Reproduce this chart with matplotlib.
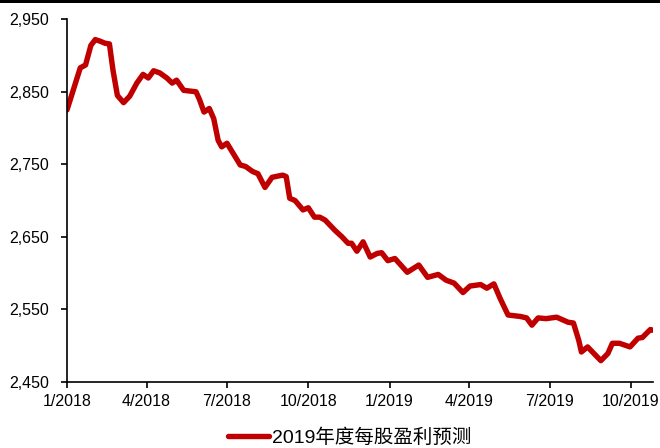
import matplotlib

matplotlib.use("Agg")
import matplotlib.dates as mdates
import matplotlib.pyplot as plt
import pandas as pd
from matplotlib.patches import Rectangle
from matplotlib.ticker import FuncFormatter

plt.rcParams["font.family"] = ["Liberation Sans", "Noto Sans CJK SC", "DejaVu Sans"]

# 2019 EPS consensus estimate, read at the turning points of the series
dates = [
    "2018-01-01", "2018-01-08", "2018-01-16", "2018-01-22", "2018-01-28",
    "2018-02-02", "2018-02-07", "2018-02-13", "2018-02-18", "2018-02-22",
    "2018-02-27", "2018-03-06", "2018-03-13", "2018-03-21", "2018-03-28",
    "2018-04-03", "2018-04-09", "2018-04-16", "2018-04-24", "2018-04-30",
    "2018-05-05", "2018-05-13", "2018-05-20", "2018-05-27", "2018-05-31",
    "2018-06-05", "2018-06-11", "2018-06-16", "2018-06-21", "2018-06-25",
    "2018-07-01", "2018-07-07", "2018-07-16", "2018-07-22", "2018-07-30",
    "2018-08-05", "2018-08-13", "2018-08-21", "2018-09-02", "2018-09-06",
    "2018-09-10", "2018-09-16", "2018-09-25", "2018-10-01", "2018-10-08",
    "2018-10-14", "2018-10-20", "2018-10-31", "2018-11-08", "2018-11-15",
    "2018-11-19", "2018-11-25", "2018-12-02", "2018-12-10", "2018-12-18",
    "2018-12-23", "2018-12-30", "2019-01-07", "2019-01-21", "2019-02-03",
    "2019-02-13", "2019-02-25", "2019-03-06", "2019-03-15", "2019-03-25",
    "2019-04-02", "2019-04-14", "2019-04-21", "2019-04-29", "2019-05-06",
    "2019-05-15", "2019-05-29", "2019-06-05", "2019-06-11", "2019-06-18",
    "2019-06-27", "2019-07-09", "2019-07-22", "2019-07-28", "2019-08-03",
    "2019-08-06", "2019-08-13", "2019-08-28", "2019-09-05", "2019-09-10",
    "2019-09-18", "2019-09-30", "2019-10-09", "2019-10-14", "2019-10-23",
    "2019-10-26",
]
eps_2019 = [
    2825, 2852, 2883, 2887, 2914,
    2922, 2920, 2917, 2916, 2880,
    2845, 2835, 2844, 2862, 2874,
    2869, 2879, 2876, 2869, 2862,
    2866, 2852, 2851, 2850, 2839,
    2822, 2827, 2813, 2783, 2774,
    2779, 2767, 2749, 2747, 2740,
    2737, 2718, 2732, 2735, 2733,
    2703, 2700, 2687, 2690, 2677,
    2677, 2673, 2659, 2650, 2641,
    2641, 2630, 2643, 2622, 2627,
    2628, 2617, 2620, 2601, 2611,
    2594, 2598, 2590, 2586, 2573,
    2582, 2584, 2579, 2585, 2565,
    2542, 2540, 2538, 2528, 2538,
    2537, 2539, 2532, 2531, 2507,
    2491, 2498, 2479, 2489, 2503,
    2503, 2498, 2510, 2511, 2522,
    2521,
]
y_ticks = [2450, 2550, 2650, 2750, 2850, 2950]
tick_dates = ["2018-01-01", "2018-04-01", "2018-07-01", "2018-10-01",
              "2019-01-01", "2019-04-01", "2019-07-01", "2019-10-01"]
series_label = "2019年度每股盈利预测"

x = pd.to_datetime(dates)
red = "#C00000"

fig = plt.figure(figsize=(6.6, 4.48), dpi=100)
ax = fig.add_axes([67 / 660, 1 - 381.7 / 448, 586 / 660, (381.7 - 19.3) / 448])

ax.plot(x, eps_2019, color=red, lw=3.9, solid_joinstyle="round",
        solid_capstyle="round", label=series_label)

ax.set_xlim(x[0], x[-1])
ax.set_ylim(y_ticks[0], y_ticks[-1])
ax.set_yticks(y_ticks)
ax.yaxis.set_major_formatter(FuncFormatter(lambda v, _: f"{v:,.0f}"))
ax.set_xticks(pd.to_datetime(tick_dates))
ax.xaxis.set_major_formatter(
    FuncFormatter(lambda v, _: f"{mdates.num2date(v).month}/{mdates.num2date(v).year}")
)

for side in ("top", "right"):
    ax.spines[side].set_visible(False)
for side in ("left", "bottom"):
    ax.spines[side].set_linewidth(1.2)
    ax.spines[side].set_color("black")
ax.tick_params(axis="both", direction="out", length=4, width=1.2,
               labelsize=11.5, colors="black")
ax.tick_params(axis="y", pad=9)
ax.tick_params(axis="x", pad=5)

fig.legend(loc="center", bbox_to_anchor=(350 / 660, 1 - 438 / 448),
           frameon=False, fontsize=14, handlelength=2.1, handletextpad=0.15,
           borderaxespad=0)

# thin black strip along the top edge
fig.add_artist(Rectangle((0, 1 - 3 / 448), 1, 3 / 448,
                         transform=fig.transFigure, color="black", lw=0))

fig.savefig("out.png", dpi=100)
